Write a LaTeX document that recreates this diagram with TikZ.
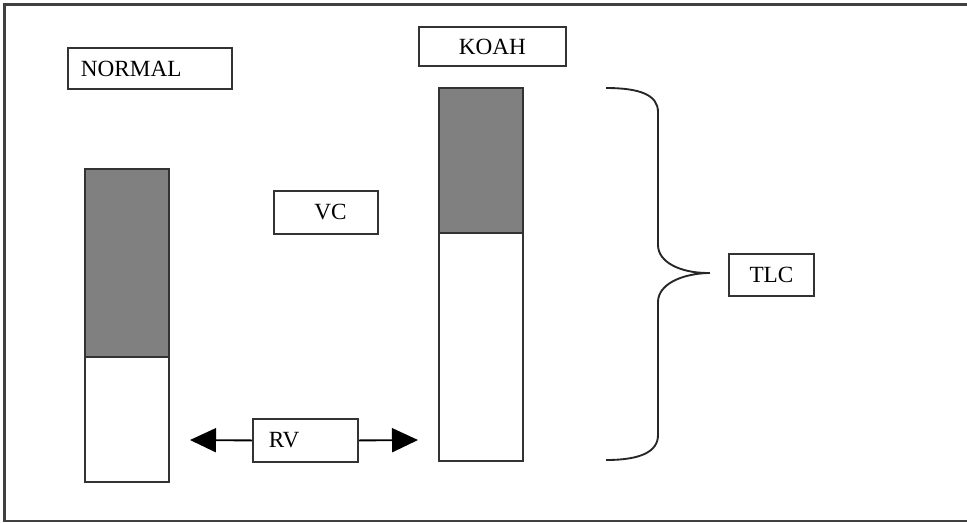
\documentclass[tikz,border=0pt]{standalone}
\usepackage{fontspec}
\setmainfont{Liberation Serif}
\usetikzlibrary{arrows.meta}
\begin{document}
\begin{tikzpicture}[x=0.75pt, y=-0.75pt, line width=1.4pt,
    tag/.style={draw=black!80, anchor=north west, inner ysep=0pt,
      font=\fontsize{17.4}{20}\selectfont},
    lefttag/.style={tag, align=left, inner xsep=#1},
    lung/.style={draw=black!80},
    gas/.style={lung, fill=black!50},
    tip/.style={-{Triangle[length=19.5pt, width=18pt]}}]
 \useasboundingbox (0,0) rectangle (967,522);
 % frame
 \draw[black!75, line width=1.6pt] (967,4.5) -- (4.5,4.5) -- (4.5,521) -- (967,521);

 % labels
 \node[lefttag=9.75pt, text width=103.5pt, minimum height=30.75pt] (normal) at (67,47) {NORMAL};
 \node[tag, minimum width=110.25pt, minimum height=29.25pt] (koah) at (418,26) {KOAH};
 \node[tag, minimum width=78pt, minimum height=32.25pt] (vc) at (273,190) {\hspace*{7pt}VC};
 \node[lefttag=12pt, text width=54.75pt, minimum height=32.25pt] (rv) at (252,418) {RV};
 \node[tag, minimum width=63.75pt, minimum height=31.5pt] (tlc) at (728,253) {TLC};

 % bars
 \draw[lung] (85,169) rectangle (169,482);
 \draw[gas] (85,169) rectangle (169,357);
 \draw[lung] (439,88) rectangle (523,461);
 \draw[gas] (439,88) rectangle (523,233);

 % RV arrows
 \coordinate (rvl) at (190,440);
 \coordinate (rvr) at (418,440);
 \draw[tip] (rv.west) -- (rvl);
 \draw[tip] (rv.east) -- (rvr);

 % brace
 \draw[black!85] (606,88) .. controls (640,88) and (658,95) .. (658,112) -- (658,245)
   .. controls (658,262) and (680,273) .. (708,273)
   .. controls (680,274) and (658,285) .. (658,302) -- (658,435)
   .. controls (658,452) and (640,460) .. (606,460);
 \draw[black!85] (700,273) -- (710,273);
\end{tikzpicture}
\end{document}
